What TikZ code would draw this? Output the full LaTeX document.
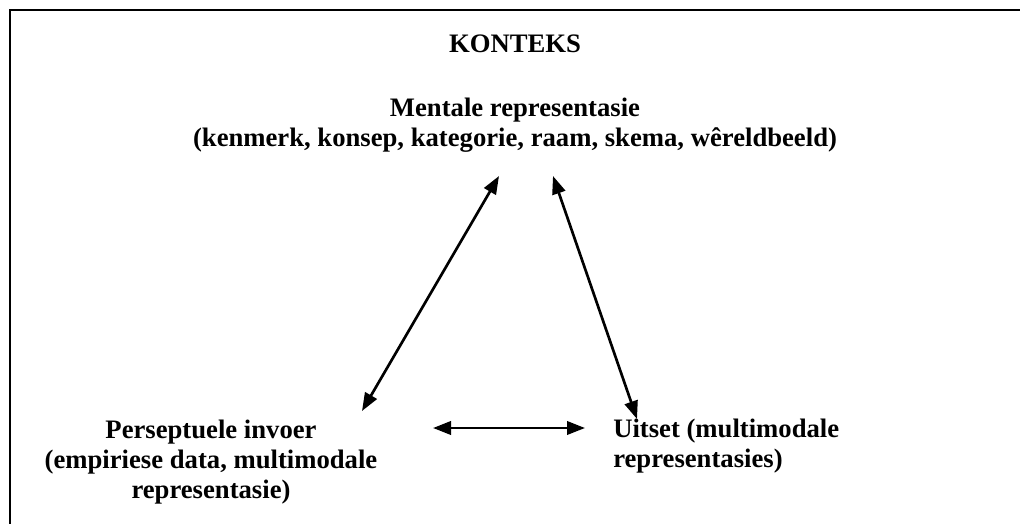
\documentclass[tikz,border=0pt]{standalone}
\usepackage{fontspec}
\setmainfont{Liberation Serif}
\usetikzlibrary{arrows.meta}

\tikzset{
  lbl/.style={font=\fontsize{20}{22.5}\selectfont\bfseries, inner sep=0pt},
  link/.style={line width=2pt, {Triangle[length=13.5pt,width=10pt]}-{Triangle[length=13.5pt,width=10pt]}},
  frame/.style={line width=2.2pt}
}

\begin{document}
\begin{tikzpicture}[x=0.75pt,y=-0.75pt]
  \useasboundingbox (0,0) rectangle (1020,524);
  \draw[frame] (1030,10) -- (10,10) -- (10,540);

  \node[lbl] (konteks) at (515,44) {KONTEKS};
  \node[lbl, align=center] (ment) at (515,125) {Mentale representasie\\(kenmerk, konsep, kategorie, raam, skema, wêreldbeeld)};
  \node[lbl, align=center] (pers) at (211,462) {Perseptuele invoer\\(empiriese data, multimodale\\representasie)};
  \node[lbl, align=left, anchor=west] (uits) at (613,446) {Uitset (multimodale\\representasies)};

  % arrow ends
  \coordinate (mL) at (499,176);
  \coordinate (mR) at (553,176);
  \coordinate (pT) at (362,411);
  \coordinate (pR) at (433,428);
  \coordinate (uL) at (585,428);
  \coordinate (uT) at (637,419);

  \draw[link] (mL) -- (pT);
  \draw[link] (mR) -- (uT);
  \draw[link] (pR) -- (uL);
\end{tikzpicture}
\end{document}
